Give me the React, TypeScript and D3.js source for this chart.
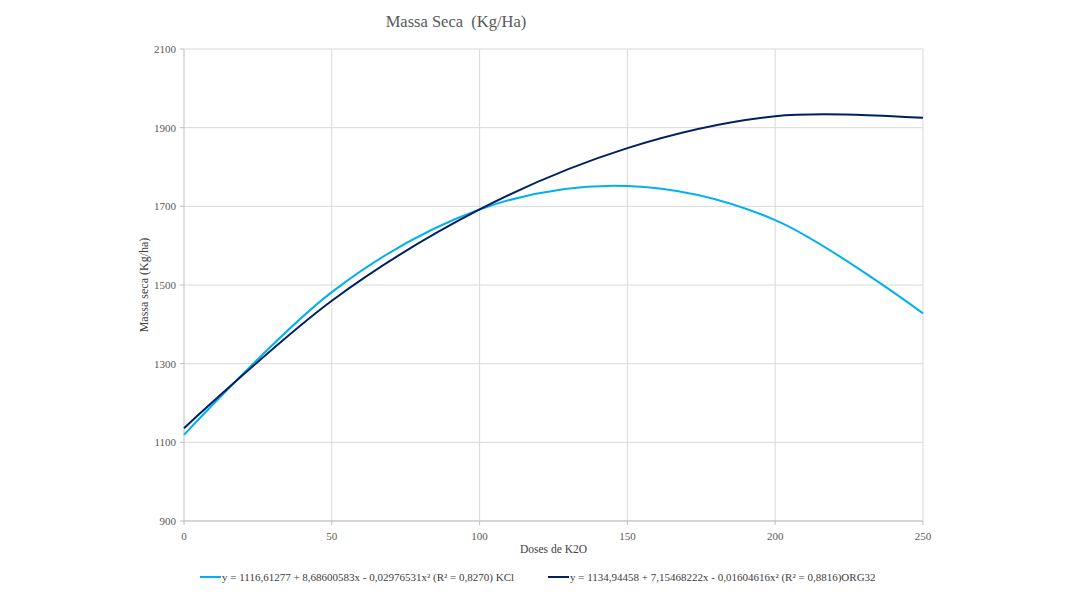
import React from "react";
import * as d3 from "d3";

const doses = [0, 50, 100, 150, 200, 250];
const kclValues = [1119, 1482, 1692, 1752, 1665, 1428];
const orgValues = [1136, 1460, 1692, 1848, 1929, 1925];
const xTicks = [0, 50, 100, 150, 200, 250];
const yTicks = [900, 1100, 1300, 1500, 1700, 1900, 2100];
const seriesNames = [
  "y = 1116,61277 + 8,68600583x - 0,02976531x² (R² = 0,8270) KCl",
  "y = 1134,94458 + 7,15468222x - 0,01604616x² (R² = 0,8816)ORG32",
];
const seriesColors = ["#00B0F0", "#002060"];

const W = 1068;
const H = 600;
const margin = { left: 184, right: 1068 - 923, top: 49, bottom: 600 - 521 };
const FONT = "'Liberation Serif', 'DejaVu Serif', Georgia, serif";

export default function App() {
  const x = d3.scaleLinear().domain([0, 250]).range([margin.left, W - margin.right]);
  const y = d3.scaleLinear().domain([900, 2100]).range([H - margin.bottom, margin.top]);
  const line = d3
    .line<[number, number]>()
    .x((d) => x(d[0]))
    .y((d) => y(d[1]))
    .curve(d3.curveCardinal.tension(0));
  const series = [kclValues, orgValues].map((vals) => doses.map((d, i) => [d, vals[i]] as [number, number]));
  const legendX = [200, 548];
  return (
    <svg width={W} height={H} style={{ position: "absolute", left: 0, top: 0, background: "#fff" }}>
      <rect x={0} y={0} width={W} height={H} fill="#fff" />
      {yTicks.map((t) => (
        <g key={"y" + t}>
          <line x1={x(0)} x2={x(250)} y1={y(t)} y2={y(t)} stroke="#d9d9d9" strokeWidth={1} />
          <line x1={x(0) - 4} x2={x(0)} y1={y(t)} y2={y(t)} stroke="#bfbfbf" strokeWidth={1} />
          <text x={x(0) - 8} y={y(t)} dy="0.35em" textAnchor="end" fontFamily={FONT} fontSize={11} fill="#595959">
            {t}
          </text>
        </g>
      ))}
      {xTicks.map((t) => (
        <g key={"x" + t}>
          {t > 0 && <line x1={x(t)} x2={x(t)} y1={y(900)} y2={y(2100)} stroke="#d9d9d9" strokeWidth={1} />}
          <line x1={x(t)} x2={x(t)} y1={y(900)} y2={y(900) + 4} stroke="#bfbfbf" strokeWidth={1} />
          <text x={x(t)} y={y(900) + 19} textAnchor="middle" fontFamily={FONT} fontSize={11} fill="#595959">
            {t}
          </text>
        </g>
      ))}
      <line x1={x(0)} x2={x(0)} y1={y(900)} y2={y(2100)} stroke="#bfbfbf" strokeWidth={1} />
      <line x1={x(0)} x2={x(250)} y1={y(900)} y2={y(900)} stroke="#bfbfbf" strokeWidth={1} />
      {series.map((s, i) => (
        <path key={i} d={line(s) || ""} fill="none" stroke={seriesColors[i]} strokeWidth={2} />
      ))}
      <text x={456} y={27} textAnchor="middle" fontFamily={FONT} fontSize={16.5} fill="#595959" style={{ whiteSpace: "pre" }}>
        Massa Seca  (Kg/Ha)
      </text>
      <text
        transform={`translate(148,${(y(900) + y(2100)) / 2}) rotate(-90)`}
        textAnchor="middle"
        fontFamily={FONT}
        fontSize={12}
        fill="#404040"
      >
        Massa seca (Kg/ha)
      </text>
      <text x={(x(0) + x(250)) / 2} y={553} textAnchor="middle" fontFamily={FONT} fontSize={11.5} fill="#404040">
        Doses de K2O
      </text>
      {seriesNames.map((n, i) => (
        <g key={"l" + i}>
          <line x1={legendX[i]} x2={legendX[i] + 21} y1={577} y2={577} stroke={seriesColors[i]} strokeWidth={2} />
          <text x={legendX[i] + 22} y={577} dy="0.35em" fontFamily={FONT} fontSize={11} fill="#404040">
            {n}
          </text>
        </g>
      ))}
    </svg>
  );
}
